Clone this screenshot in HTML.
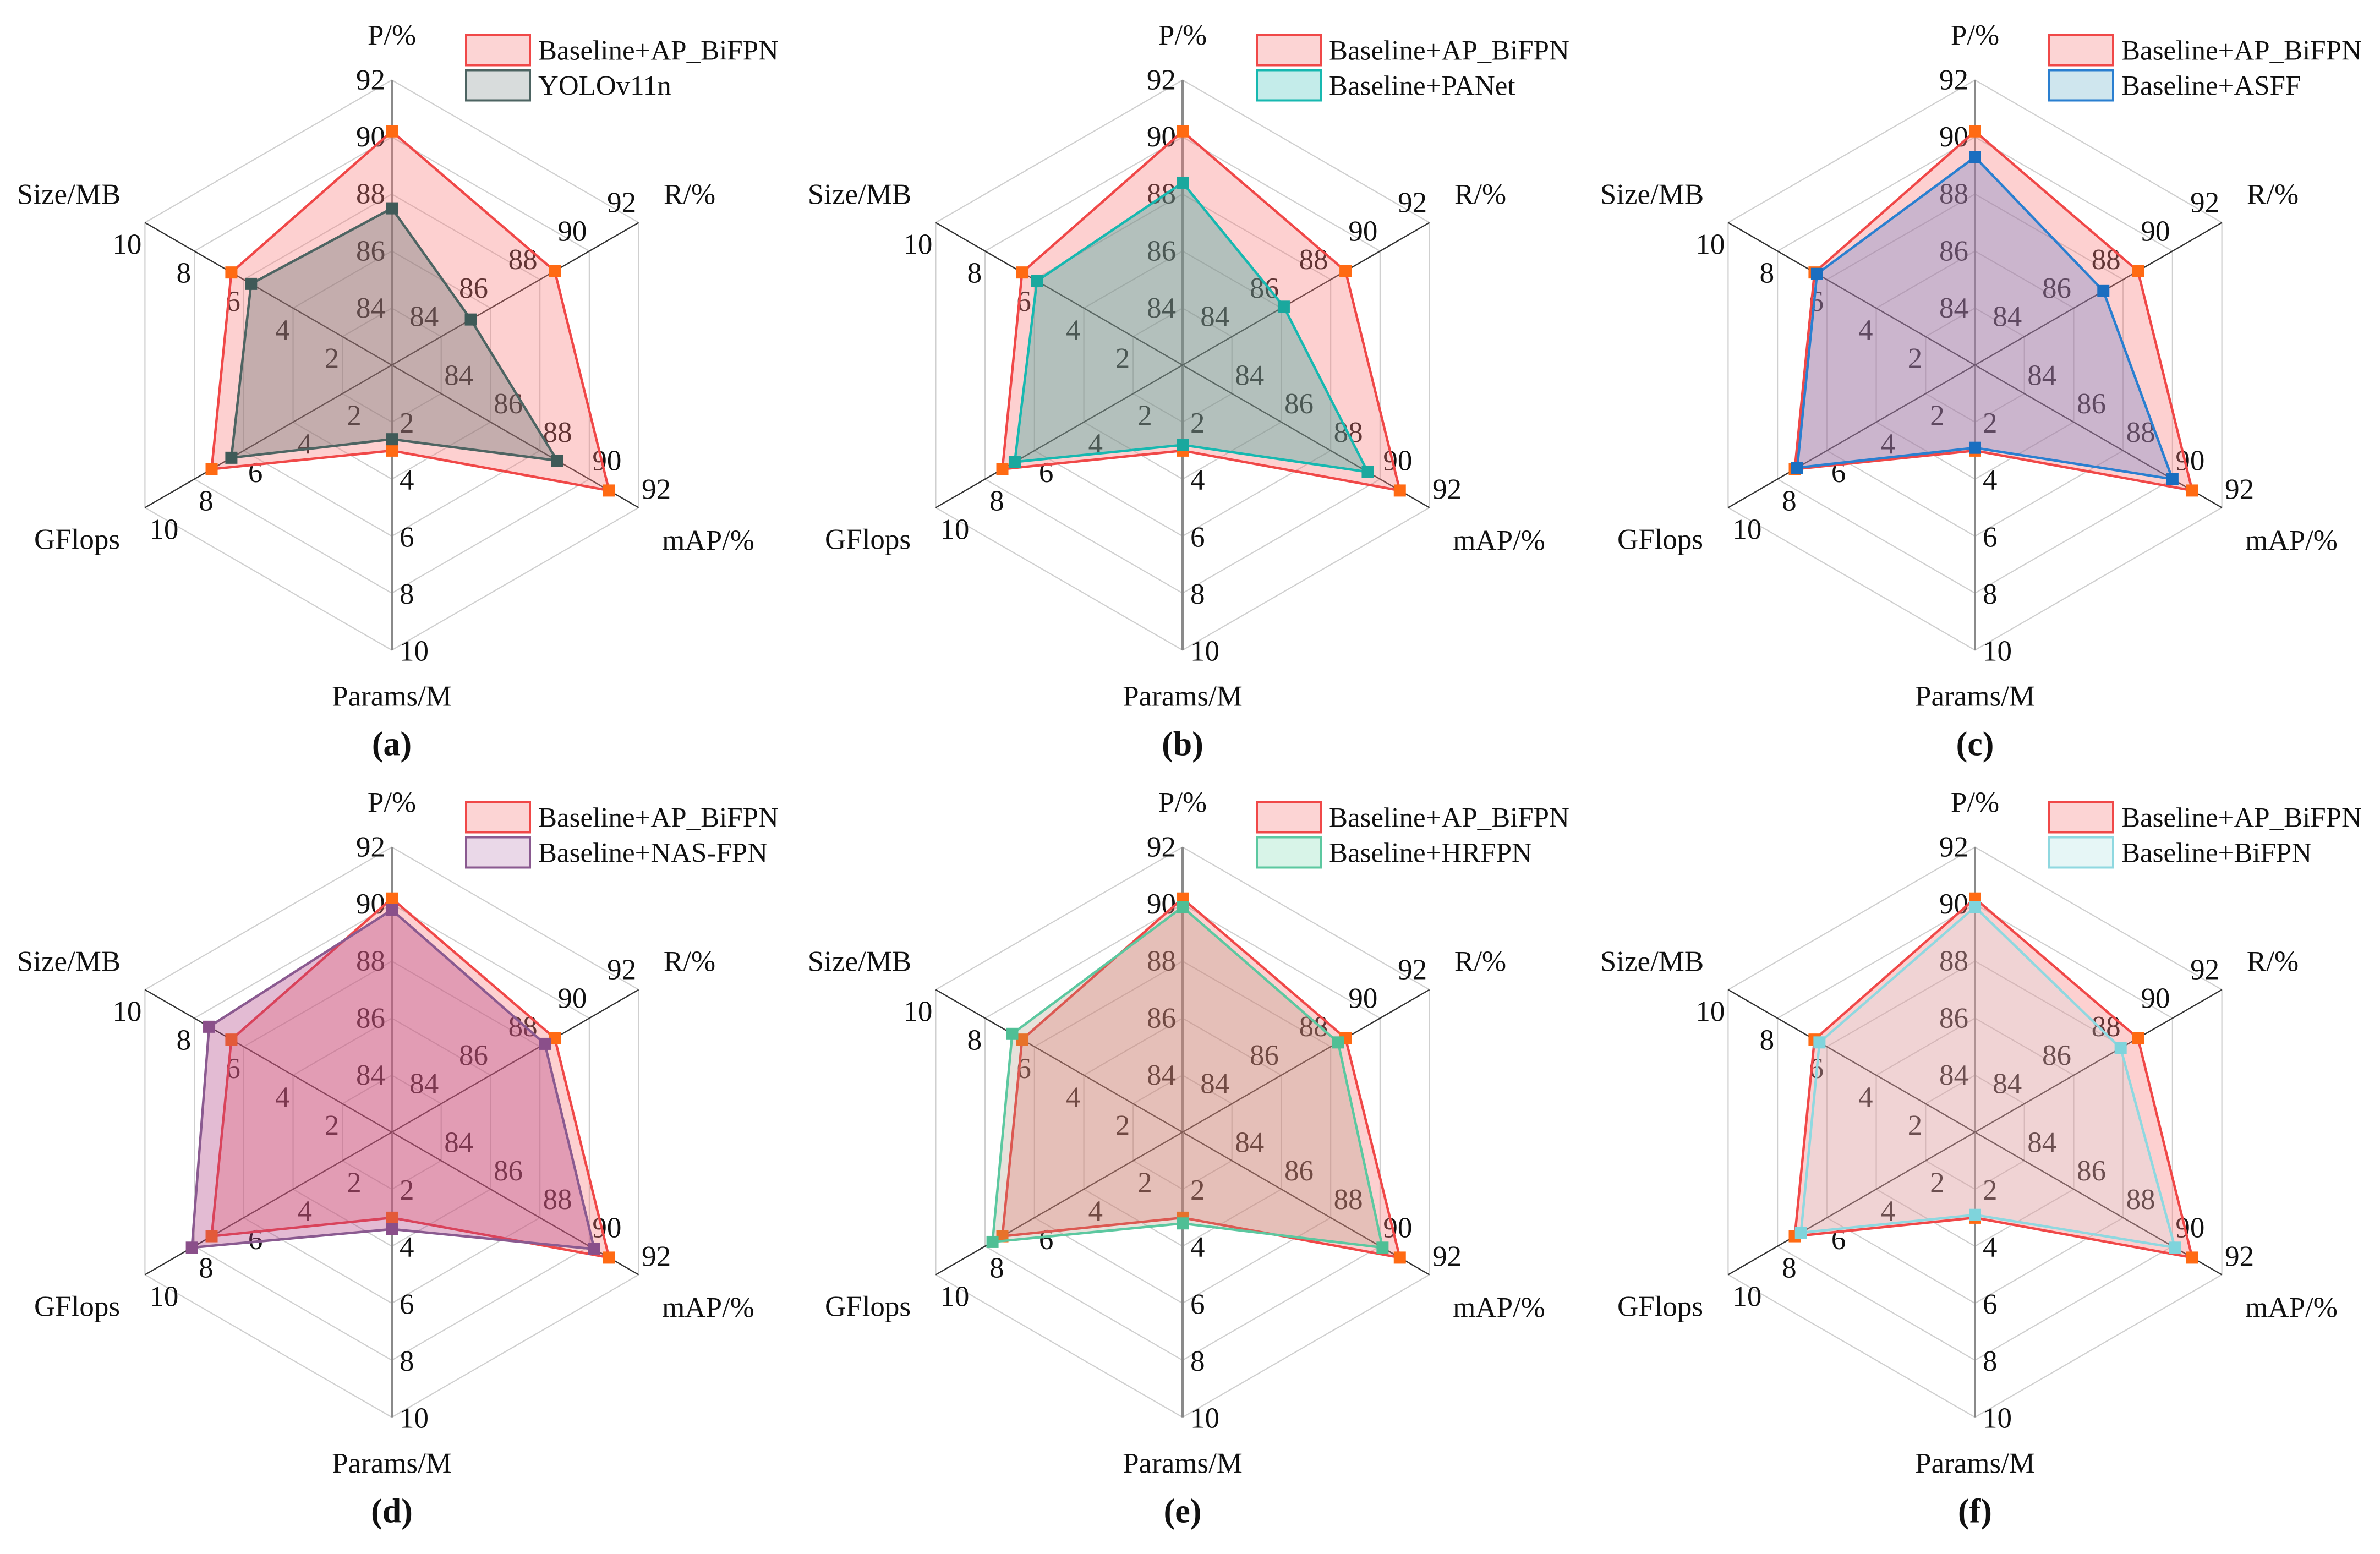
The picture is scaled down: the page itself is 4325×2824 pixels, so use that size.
<!DOCTYPE html>
<html><head><meta charset="utf-8">
<style>
html,body{margin:0;padding:0;background:#fff;}
svg{display:block;}
text{font-family:"Liberation Serif","Times New Roman","DejaVu Serif",serif;}
</style></head>
<body>
<svg id="chart" width="4325" height="2824" viewBox="0 0 4325 2824" xmlns="http://www.w3.org/2000/svg">
<rect width="4325" height="2824" fill="#fff"/>
</svg>
<script>
const axisNames = ["P/%","R/%","mAP/%","Params/M","GFlops","Size/MB"];
const axisMin = [82,82,82,0,0,0];
const axisMax = [92,92,92,10,10,10];
const pctTicks = ["84","86","88","90","92"];
const numTicks = ["2","4","6","8","10"];
const panelLetters = ["(a)","(b)","(c)","(d)","(e)","(f)"];
const baseName = "Baseline+AP_BiFPN";
const baseValues = [90.2,88.6,90.8,3.0,7.3,6.5];
const compNames = ["YOLOv11n","Baseline+PANet","Baseline+ASFF","Baseline+NAS-FPN","Baseline+HRFPN","Baseline+BiFPN"];
const compA = [87.5,85.2,88.7,2.6,6.5,5.7];
const compB = [88.4,86.1,89.5,2.8,6.8,5.9];
const compC = [89.3,87.2,90.0,2.9,7.2,6.4];
const compD = [89.8,88.2,90.2,3.4,8.1,7.4];
const compE = [89.9,88.3,90.1,3.2,7.7,6.9];
const compF = [89.9,87.9,90.1,2.9,7.05,6.3];
const compValues = [compA,compB,compC,compD,compE,compF];

const styles = [
 {stroke:"#4d6462",mark:"#3f5a58",fill:"rgba(90,110,108,0.35)",leg:"#d8dcdc"},
 {stroke:"#17b8b0",mark:"#1aa89e",fill:"rgba(30,160,150,0.33)",leg:"#c4ecea"},
 {stroke:"#2a7fd0",mark:"#1a6ec0",fill:"rgba(90,120,200,0.30)",leg:"#cfe6ee"},
 {stroke:"#8a5a90",mark:"#8a4f8a",fill:"rgba(175,60,130,0.35)",leg:"#ead8e8"},
 {stroke:"#5cc8a0",mark:"#4fbf95",fill:"rgba(160,140,110,0.25)",leg:"#d8f4e8"},
 {stroke:"#8fd8e0",mark:"#7fd4dc",fill:"rgba(170,230,235,0.15)",leg:"#e6f6f6"}
];
const centersX = [712,2149,3589];
const centersY = [663.5,2057.5];
const R = 518;
const angles = [90,30,-30,-90,210,150];
const NS = "http://www.w3.org/2000/svg";
const svg = document.getElementById("chart");
const FONT = '"Liberation Serif", "Times New Roman", serif';

function mk(tag, attrs, parent){
  const e = document.createElementNS(NS, tag);
  for (const k in attrs) e.setAttribute(k, attrs[k]);
  if (tag==="text") e.setAttribute("font-family", FONT);
  (parent||svg).appendChild(e);
  return e;
}
function radius(i, v){ return (v-axisMin[i])/(axisMax[i]-axisMin[i])*R; }
function pt(cx, cy, i, r){
  const a = angles[i]*Math.PI/180;
  return [cx + r*Math.cos(a), cy - r*Math.sin(a)];
}
const tickOff = [
  {dx:-12,dy:0,anchor:"end"},
  {dx:-31,dy:-36,anchor:"middle"},
  {dx:32,dy:-33,anchor:"middle"},
  {dx:14,dy:2,anchor:"start"},
  {dx:8,dy:40,anchor:"start"},
  {dx:-6,dy:40,anchor:"end"}
];
const labelOff = [[0,-599],[541,-310],[575,319],[0,602],[-572,317],[-587,-310]];

for (let p=0;p<6;p++){
  const cx = centersX[p%3], cy = centersY[Math.floor(p/3)];
  const g = mk("g",{});
  
  
  for (let k=1;k<=5;k++){
    const pts=[];
    for (let i=0;i<6;i++) pts.push(pt(cx,cy,i,R*k/5).join(","));
    const ring = mk("polygon",{points:pts.join(" "),fill:"none",stroke:"#cfcfcf","stroke-width":2.2},g);
    
    
  }
  for (let i=0;i<6;i++){
    const e = pt(cx,cy,i,R);
    const vert = (i===0||i===3);
    const ax = mk("line",{x1:cx,y1:cy,x2:e[0],y2:e[1],stroke:vert?"#8a8a8a":"#333",'stroke-width':vert?4:2.4},g);
    
    
  }
  for (let i=0;i<6;i++){
    const ticks = i<3?pctTicks:numTicks;
    for (let k=0;k<5;k++){
      const q = pt(cx,cy,i,R*(k+1)/5);
      const t = mk("text",{x:q[0]+tickOff[i].dx,y:q[1]+tickOff[i].dy,"text-anchor":tickOff[i].anchor,"dominant-baseline":"central","font-size":53,fill:"#111"},g);
      t.textContent = ticks[k];
      
      
    }
  }
  const series = [{vals:baseValues,stroke:"#f04848",mark:"#ff6a13",fill:"rgba(250,120,120,0.35)"},
                  {vals:compValues[p],stroke:styles[p].stroke,mark:styles[p].mark,fill:styles[p].fill}];
  series.forEach((s,si)=>{
    const pts = s.vals.map((v,i)=>pt(cx,cy,i,radius(i,v)));
    const poly = mk("polygon",{points:pts.map(a=>a.join(",")).join(" "),fill:s.fill,stroke:s.stroke,"stroke-width":4.5,"stroke-linejoin":"miter"},g);
    
    
    pts.forEach(a=>{
      const m = mk("rect",{x:a[0]-11,y:a[1]-11,width:22,height:22,fill:s.mark},g);
      
      
    });
  });
  for (let i=0;i<6;i++){
    const t = mk("text",{x:cx+labelOff[i][0],y:cy+labelOff[i][1],"text-anchor":"middle","dominant-baseline":"central","font-size":53,fill:"#111"},g);
    t.textContent = axisNames[i];
    
    
  }
  const lx = cx+135, ly = cy-600;
  const b1 = mk("rect",{x:lx,y:ly,width:116,height:55,fill:"#fcd4d4",stroke:"#f04848","stroke-width":4},g);
  
  
  const b2 = mk("rect",{x:lx,y:ly+64,width:116,height:55,fill:styles[p].leg,stroke:styles[p].stroke,"stroke-width":4},g);
  
  
  const t1 = mk("text",{x:lx+131,y:ly+45,"font-size":51,fill:"#111"},g);
  t1.textContent = baseName;
  
  
  const t2 = mk("text",{x:lx+131,y:ly+109,"font-size":51,fill:"#111"},g);
  t2.textContent = compNames[p];
  
  
  const pl = mk("text",{x:cx,y:cy+709,"text-anchor":"middle","font-size":62,"font-weight":"bold",fill:"#111"},g);
  pl.textContent = panelLetters[p];
  
  
}
</script>
</body></html>
